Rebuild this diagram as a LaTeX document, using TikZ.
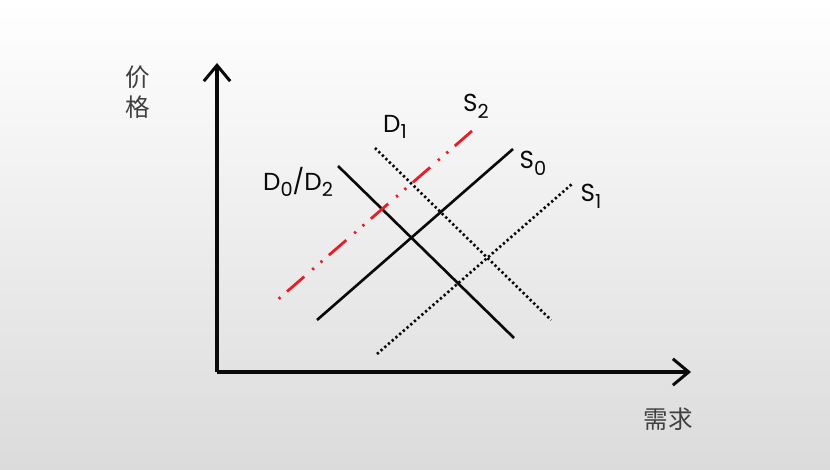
\documentclass[tikz,border=0pt]{standalone}
\usepackage{fontspec}
\setmainfont{Poppins}
\newfontfamily\cjk{Noto Sans CJK SC}
\usetikzlibrary{arrows.meta, positioning}
\definecolor{axisblack}{RGB}{10, 10, 10}
\definecolor{shiftred}{RGB}{230, 30, 40}
\definecolor{bgbottom}{RGB}{219, 219, 219}
\newcommand{\lowidx}[1]{\raisebox{-0.5ex}{\fontsize{11}{11}\selectfont #1}}

\begin{document}
\begin{tikzpicture}[
    x=0.02cm, y=-0.02cm,
    axis/.style={draw=axisblack, line width=1.9pt, -{Straight Barb[length=9pt, width=15pt, line width=1.7pt]}},
    curve/.style={draw=axisblack, line width=1.5pt},
    dotcurve/.style={draw=axisblack, line width=1.5pt, dash pattern=on 1.3pt off 1.5pt},
    redcurve/.style={draw=shiftred, line width=1.6pt, dash pattern=on 13pt off 5pt on 1.3pt off 5pt on 1.3pt off 6pt},
    lbl/.style={font=\fontsize{14}{16}\selectfont, text=axisblack, inner sep=1pt},
    cjklbl/.style={font=\cjk\fontsize{14}{17}\selectfont, text=black!75, inner sep=1pt, align=center}
]

% Background
\shade[top color=white, bottom color=bgbottom, middle color=white!50!bgbottom] (0,0) rectangle (830,469);
\useasboundingbox (0,0) rectangle (830,469);

% Axes
\coordinate (origin) at (217,372);
\coordinate (ytip) at (217,63);
\coordinate (xtip) at (691,372);
\draw[axis] (origin) -- (ytip);
\draw[axis] (origin) -- (xtip);

% Axis labels
\node[cjklbl] (price) at (138,92) {价\\格};
\node[cjklbl] (demand) at (668,419) {需求};

% Curve end points
\coordinate (d0a) at (338,166);
\coordinate (d0b) at (514,338);
\coordinate (d1a) at (375,148);
\coordinate (d1b) at (551,320);
\coordinate (s0a) at (317,320);
\coordinate (s0b) at (513,149);
\coordinate (s1a) at (377,354);
\coordinate (s1b) at (572,184);
\coordinate (s2a) at (275,302);
\coordinate (s2b) at (472,131);

% Curves
\draw[curve] (d0a) -- (d0b);
\draw[dotcurve] (d1a) -- (d1b);
\draw[curve] (s0a) -- (s0b);
\draw[dotcurve] (s1a) -- (s1b);
\draw[redcurve] (s2b) -- (s2a);

% Curve labels
\node[lbl] (d0lbl) at (298,182) {D\lowidx{0}/D\lowidx{2}};
\node[lbl] (d1lbl) at (395,127) {D\lowidx{1}};
\node[lbl] (s2lbl) at (476,106) {S\lowidx{2}};
\node[lbl] (s0lbl) at (533,163) {S\lowidx{0}};
\node[lbl] (s1lbl) at (591,196) {S\lowidx{1}};

\end{tikzpicture}
\end{document}
